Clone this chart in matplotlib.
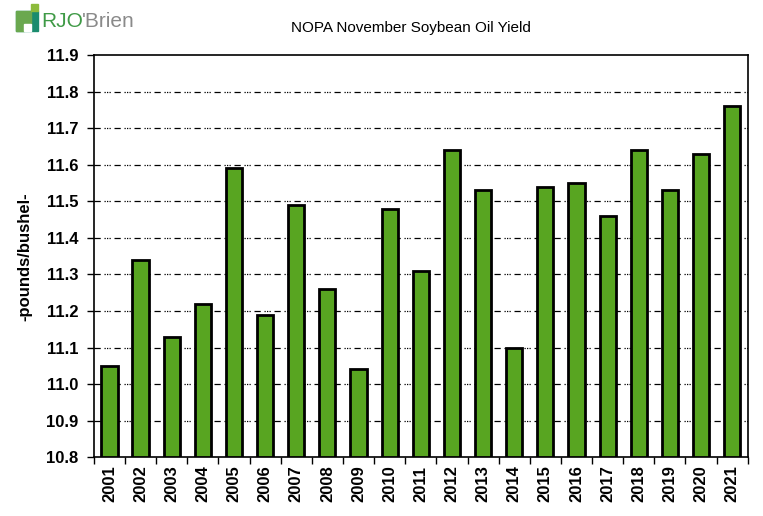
import matplotlib.pyplot as plt
from matplotlib.patches import Rectangle, Polygon

plt.rcParams['font.family'] = ['Liberation Sans', 'DejaVu Sans']

years = [str(y) for y in range(2001, 2022)]
yields = [11.05, 11.34, 11.13, 11.22, 11.59, 11.19, 11.49, 11.26, 11.04, 11.48,
          11.31, 11.64, 11.53, 11.10, 11.54, 11.55, 11.46, 11.64, 11.53, 11.63, 11.76]
yticks = [10.8, 10.9, 11.0, 11.1, 11.2, 11.3, 11.4, 11.5, 11.6, 11.7, 11.8, 11.9]

fig = plt.figure(figsize=(7.63, 5.16), dpi=100)
ax = fig.add_axes([0.123, 0.114, 0.857, 0.779])

x = list(range(len(years)))
ax.bar(x, [v - 10.8 for v in yields], bottom=10.8, width=0.52,
       color='#58a521', edgecolor='black', linewidth=2, zorder=3)

ax.set_ylim(10.8, 11.9)
ax.set_xlim(-0.5, len(years) - 0.5)
ax.set_yticks(yticks)
ax.set_yticklabels([f'{t:.1f}' for t in yticks], fontsize=12)
ax.set_xticks(x)
ax.set_xticklabels(years, rotation=90, fontsize=12, fontweight='bold')
for lbl in ax.get_yticklabels():
    lbl.set_fontweight('bold')
ax.tick_params(axis='x', length=0, pad=6)
ax.set_xticks([i - 0.5 for i in range(len(years) + 1)], minor=True)
ax.tick_params(axis='x', which='minor', length=5, width=1, direction='out')
ax.tick_params(axis='y', length=5, width=1, direction='out', pad=6)

for t in yticks[1:-1]:
    ax.axhline(t, color='black', linewidth=0.9, dashes=(5, 3, 1, 1, 1, 1, 1, 3), zorder=1)

for s in ax.spines.values():
    s.set_linewidth(1.2)

ax.set_ylabel('-pounds/bushel-', fontsize=12, fontweight='bold', labelpad=10)
fig.text(0.539, 0.945, 'NOPA November Soybean Oil Yield', ha='center', va='center', fontsize=11)

# logo
lax = fig.add_axes([0.0, 0.93, 0.25, 0.07])
lax.set_xlim(0, 190)
lax.set_ylim(0, 36)
lax.axis('off')
lax.add_patch(Rectangle((16, 5), 22, 20, color='#1a8c6e'))
lax.add_patch(Polygon([(16, 5), (16, 25), (31, 25), (31, 12), (24, 12), (24, 5)], color='#6aa84f'))
lax.add_patch(Rectangle((24, 5), 7, 7, color='white'))
lax.add_patch(Polygon([(31, 25), (38, 25), (38, 32), (31, 32)], color='#8dbb3c'))
lax.text(41, 15, 'RJO', fontsize=15, color='#3f9a46', va='center', ha='left')
lax.text(82, 15, "'Brien", fontsize=15, color='#8a8a8a', va='center', ha='left')

fig.savefig('out.png', dpi=100)
